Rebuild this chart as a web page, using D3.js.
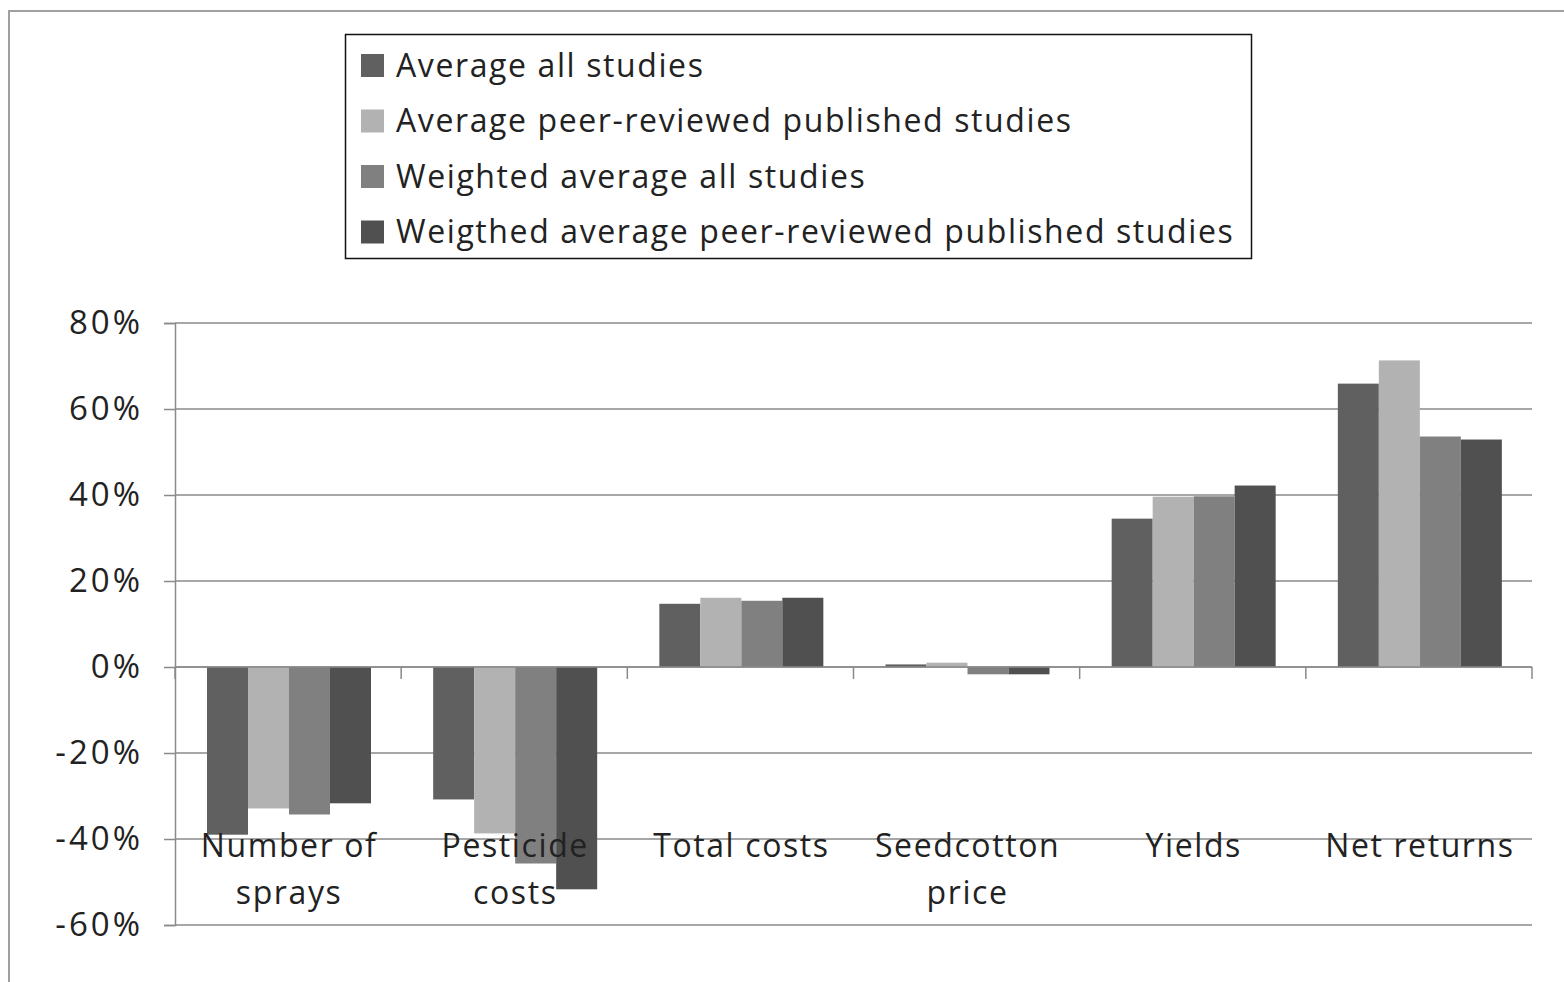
<!DOCTYPE html>
<html>
<head>
<meta charset="utf-8">
<script src="https://cdn.jsdelivr.net/npm/d3@7"></script>
<style>
  body { margin: 0; background: #fff; }
  svg { display: block; font-family: "Open Sans", Lato, sans-serif; }
</style>
</head>
<body>
<svg width="1564" height="982"></svg>
<script>
const categories = [['Number of', 'sprays'], ['Pesticide', 'costs'], ['Total costs'], ['Seedcotton', 'price'], ['Yields'], ['Net returns']];
const seriesNames = ['Average all studies', 'Average peer-reviewed published studies', 'Weighted average all studies', 'Weigthed average peer-reviewed published studies'];
const seriesColors = ['#606060', '#b2b2b2', '#808080', '#505050'];
const avgAll = [-39, -30.8, 14.7, 0.6, 34.5, 65.9];
const avgPeer = [-32.9, -38.7, 16.1, 1.0, 39.6, 71.3];
const wAvgAll = [-34.3, -45.7, 15.4, -1.7, 39.7, 53.6];
const wAvgPeer = [-31.7, -51.7, 16.1, -1.7, 42.2, 52.9];
const yTicks = [80, 60, 40, 20, 0, -20, -40, -60];

const seriesValues = [avgAll, avgPeer, wAvgAll, wAvgPeer];

const svg = d3.select('svg');

// outer frame
svg.append('path')
    .attr('d', 'M9,982 L9,11 L1564,11')
    .attr('fill', 'none')
    .attr('stroke', '#a0a0a0')
    .attr('stroke-width', 2);

const left = 175, right = 1532;
const y = d3.scaleLinear().domain([-60, 80]).range([925, 323]);
const x0 = d3.scaleBand().domain(d3.range(categories.length)).range([left, right]);
const x1 = d3.scaleBand().domain(d3.range(seriesNames.length)).range([32, 196]);

// gridlines
svg.append('g')
  .selectAll('line')
  .data(yTicks)
  .join('line')
    .attr('x1', left)
    .attr('x2', right)
    .attr('y1', d => y(d))
    .attr('y2', d => y(d))
    .attr('stroke', '#8a8a8a')
    .attr('stroke-width', 1.5);

// y axis
const yAxis = svg.append('g')
    .attr('transform', `translate(${left},0)`)
    .call(d3.axisLeft(y).tickValues(yTicks).tickSize(11).tickPadding(21).tickFormat(d => d + '%'));
yAxis.select('.domain').attr('stroke', '#8a8a8a').attr('stroke-width', 1.5);
yAxis.selectAll('.tick line').attr('stroke', '#8a8a8a').attr('stroke-width', 1.5);
yAxis.selectAll('.tick text')
    .attr('font-size', 33)
    .attr('letter-spacing', 3)
    .attr('fill', '#222')
    .attr('font-family', '"Open Sans", sans-serif');

// bars
const groups = svg.append('g')
  .selectAll('g')
  .data(categories.map((c, i) => i))
  .join('g')
    .attr('transform', i => `translate(${x0(i)},0)`);

groups.selectAll('rect')
  .data(i => seriesValues.map((s, k) => ({ k, v: s[i] })))
  .join('rect')
    .attr('x', d => x1(d.k))
    .attr('width', x1.bandwidth())
    .attr('y', d => y(Math.max(0, d.v)))
    .attr('height', d => Math.abs(y(d.v) - y(0)))
    .attr('fill', d => seriesColors[d.k]);

// x axis at zero
svg.append('line')
    .attr('x1', left).attr('x2', right)
    .attr('y1', y(0)).attr('y2', y(0))
    .attr('stroke', '#8a8a8a')
    .attr('stroke-width', 1.5);
svg.append('g')
  .selectAll('line')
  .data(d3.range(categories.length + 1))
  .join('line')
    .attr('x1', i => left + i * x0.step())
    .attr('x2', i => left + i * x0.step())
    .attr('y1', y(0))
    .attr('y2', y(0) + 12)
    .attr('stroke', '#8a8a8a')
    .attr('stroke-width', 1.5);

// category labels
const labels = svg.append('g')
  .selectAll('text')
  .data(categories)
  .join('text')
    .attr('text-anchor', 'middle')
    .attr('font-size', 32)
    .attr('letter-spacing', 1.6)
    .attr('fill', '#222')
    .attr('transform', (d, i) => `translate(${x0(i) + x0.bandwidth() / 2 + 1},857)`);
labels.selectAll('tspan')
  .data(d => d)
  .join('tspan')
    .attr('x', 0)
    .attr('dy', (d, i) => i === 0 ? 0 : 47)
    .text(d => d);

// legend
const legend = svg.append('g');
legend.append('rect')
    .attr('x', 345.5).attr('y', 34.5)
    .attr('width', 906).attr('height', 224)
    .attr('fill', '#fff')
    .attr('stroke', '#111')
    .attr('stroke-width', 1.5);
const items = legend.selectAll('g')
  .data(seriesNames)
  .join('g')
    .attr('transform', (d, i) => `translate(361,${65 + i * 55.5})`);
items.append('rect')
    .attr('x', 0).attr('y', -11)
    .attr('width', 23).attr('height', 23)
    .attr('fill', (d, i) => seriesColors[i]);
items.append('text')
    .attr('x', 35)
    .attr('dy', '0.36em')
    .attr('font-size', 32)
    .attr('letter-spacing', 1.6)
    .attr('fill', '#222')
    .text(d => d);
</script>
</body>
</html>
